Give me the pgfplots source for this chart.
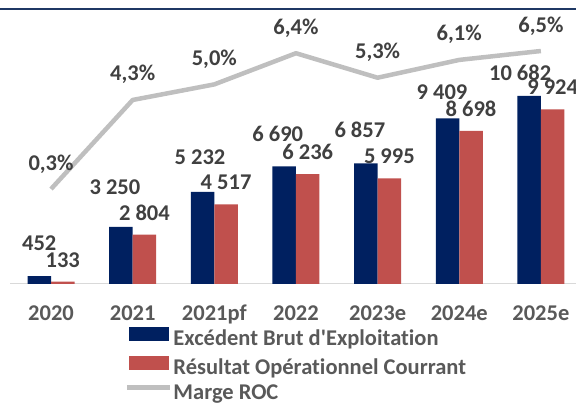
\documentclass[border=0pt]{standalone}
\usepackage{pgfplots}
\pgfplotsset{compat=1.18}
\usepackage{pgfplotstable}
\usepackage{fontspec}
\setmainfont{Carlito}[Ligatures={NoCommon}]
\definecolor{ebe}{HTML}{002060}
\definecolor{roc}{HTML}{C0504D}
\definecolor{marge}{HTML}{BFBFBF}
\definecolor{lbl}{HTML}{404040}
\definecolor{tck}{HTML}{595959}
\definecolor{baseln}{HTML}{D9D9D9}
\definecolor{topline}{HTML}{1F3864}

\pgfplotstableread{
x ebe roc marge dxe dye
0 452 133 0.3 0 26
1 3250 2804 4.3 -6 31.8
2 5232 4517 5.0 -2.6 27.9
3 6690 6236 6.4 -6.5 24.3
4 6857 5995 5.3 -6 26.3
5 9409 8698 6.1 -5.5 18.4
6 10682 9924 6.5 -9 15
}\data

\begin{document}
\begin{tikzpicture}[font=\fontsize{22.5}{26}\selectfont\bfseries]
\begin{axis}[
  at={(10.2pt,119pt)}, anchor=south west,
  scale only axis, width=565.8pt, height=276pt,
  xmin=-0.5, xmax=6.43, ymin=0, ymax=15682,
  ybar=0pt, bar width=23.5pt,
  axis x line*=bottom, axis y line=none,
  x axis line style={draw=baseln, line width=1pt, -},
  xtick={0,...,6},
  xticklabels={2020,2021,2021pf,2022,2023e,2024e,2025e},
  major tick length=0pt,
  xticklabel style={text=tck, anchor=base, yshift=-36.5pt},
  ytick=\empty,
  clip=false,
  /pgf/number format/assume math mode=true,
  nodes near coords={\pgfmathprintnumber[1000 sep={\ }]{\pgfplotspointmeta}},
]
\addplot[fill=ebe, draw=none,
  visualization depends on={\thisrow{dxe} \as \dxe},
  visualization depends on={\thisrow{dye} \as \dye},
  nodes near coords style={text=lbl, anchor=base, xshift=\dxe pt, yshift=\dye pt}]
  table[x=x, y=ebe]{\data};
\addplot[fill=roc, draw=none,
  nodes near coords style={text=lbl, anchor=base, yshift=14.5pt}]
  table[x=x, y=roc]{\data};
\end{axis}
\begin{axis}[
  at={(10.2pt,119pt)}, anchor=south west,
  scale only axis, width=565.8pt, height=276pt,
  xmin=-0.5, xmax=6.43, ymin=-3.967, ymax=8.432,
  hide axis, clip=false,
  /pgf/number format/assume math mode=true,
  nodes near coords={\pgfmathprintnumber[fixed, fixed zerofill, precision=1, use comma]{\pgfplotspointmeta}\%},
  nodes near coords style={text=lbl, anchor=base, yshift=19pt},
  legend cell align=left,
  legend style={at={(0.2029,-0.1558)}, anchor=north west, draw=none, fill=none,
    inner sep=0pt, outer sep=0pt, row sep=5pt, column sep=1pt,
    nodes={inner sep=0pt, text height=15pt, text depth=5pt, text=tck}},
]
\addlegendimage{legend image code/.code={\fill[ebe] (0pt,0.5pt) rectangle (39pt,13.5pt);}}
\addlegendentry{Excédent Brut d\textquotesingle Exploitation}
\addlegendimage{legend image code/.code={\fill[roc] (0pt,0.5pt) rectangle (39pt,13.5pt);}}
\addlegendentry{Résultat Opérationnel Courrant}
\addplot[marge, line width=4.5pt, mark=none, line join=round,
  legend image code/.code={\draw[marge, line width=4.5pt] (-2pt,7pt) -- (41pt,7pt);}]
  table[x=x, y=marge]{\data};
\addlegendentry{Marge ROC}
\end{axis}
\draw[topline, line width=2pt] (0pt,394.3pt) -- (576pt,394.3pt);
\pgfresetboundingbox
\useasboundingbox (0pt,0pt) rectangle (576pt,403pt);
\end{tikzpicture}
\end{document}
